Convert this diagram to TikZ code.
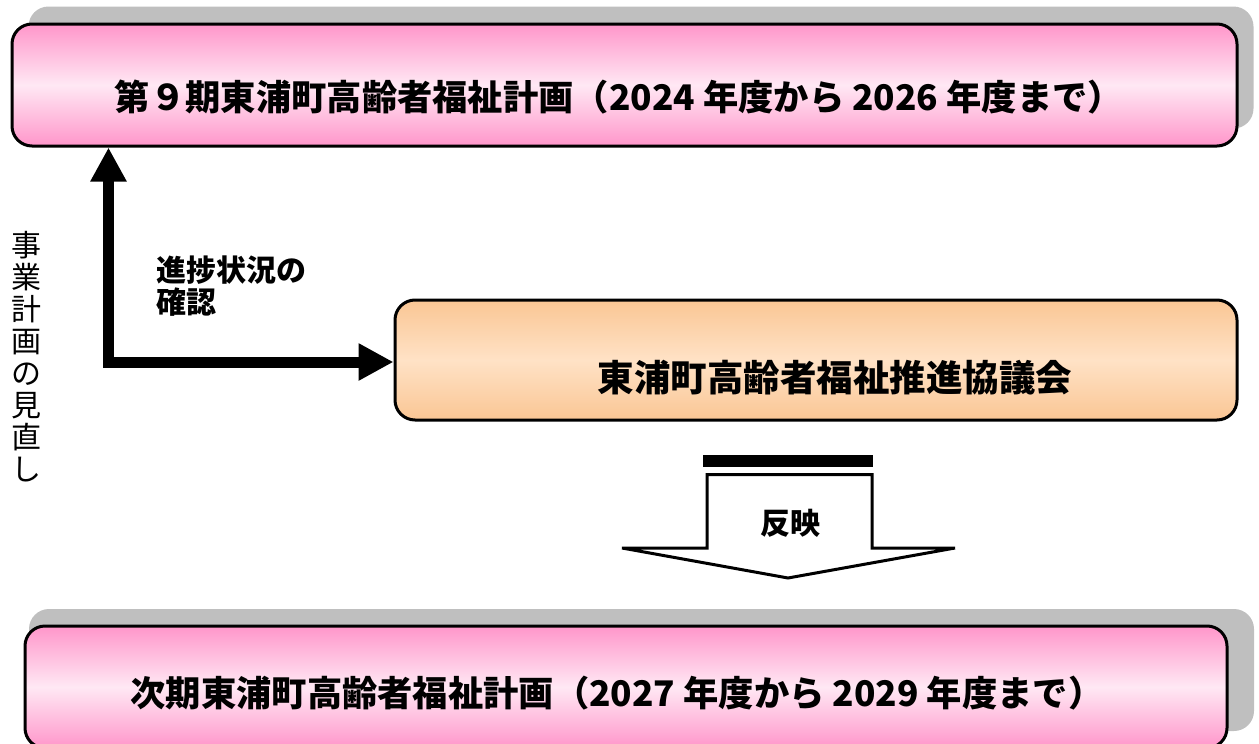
\documentclass[tikz,border=0pt]{standalone}
\usepackage{fontspec}
\newfontfamily\jp{Noto Sans CJK JP}
\usetikzlibrary{arrows.meta}
\definecolor{pinkA}{RGB}{255,150,202}
\definecolor{pinkB}{RGB}{255,232,244}
\definecolor{orA}{RGB}{250,198,148}
\definecolor{orB}{RGB}{255,226,198}
\definecolor{shadowgray}{RGB}{191,191,191}
\begin{document}
\begin{tikzpicture}[x=1pt,y=-1pt,
  shadowbox/.style={fill=shadowgray, rounded corners=20pt, minimum width=1225pt, minimum height=122pt, inner sep=0pt},
  planbox/.style={draw=black, line width=3pt, rounded corners=20pt, top color=pinkA, bottom color=pinkA, middle color=pinkB, minimum width=1225pt, minimum height=122pt, inner sep=0pt},
  councilbox/.style={draw=black, line width=3pt, rounded corners=20pt, top color=orA, bottom color=orA, middle color=orB, minimum width=842pt, minimum height=120pt, inner sep=0pt},
  bigtext/.style={font=\jp\bfseries\fontsize{35.3}{40}\selectfont, inner sep=0pt},
  smalltext/.style={font=\jp\bfseries\fontsize{30}{32}\selectfont, inner sep=0pt},
  elbow/.style={line width=11pt, line join=miter, {Triangle[length=34pt,width=34pt]}-{Triangle[length=35pt,width=35pt]}},
]
\useasboundingbox (0,0) rectangle (1259,744);
\clip (0,0) rectangle (1259,744);
% top plan
\node[shadowbox] (plan9shadow) at (641,67.5) {};
\node[planbox] (plan9) at (624.5,85) {};
\node[bigtext] (plan9text) at (619,97) {第９期東浦町高齢者福祉計画（2024 年度から 2026 年度まで）};
% council
\node[councilbox] (council) at (816,360) {};
\node[bigtext, font=\jp\bfseries\fontsize{36.5}{40}\selectfont] (counciltext) at (835,378) {東浦町高齢者福祉推進協議会};
% elbow arrow
\coordinate (corner) at (108.5,362);
\draw[elbow] (plan9.south -| corner) -- (corner) -- (corner -| council.west);
\node[smalltext, align=left, anchor=north west] (check) at (156,256) {進捗状況の\\確認};
\node[font=\jp\fontsize{30}{32}\selectfont, align=center, inner sep=0pt] (review) at (26,357) {事\\業\\計\\画\\の\\見\\直\\し};
% reflect arrow
\fill (703,455) rectangle (873,467);
\draw[line width=3pt, fill=white, line join=miter] (707,474.5) -- (707,548) -- (622,548) -- (788,578) -- (955,548) -- (872,548) -- (872,474.5) -- cycle;
\node[smalltext] (reflect) at (790,523) {反映};
% next plan
\node[shadowbox] (nextshadow) at (641.5,670) {};
\node[planbox, minimum width=1202pt] (nextplan) at (626,687) {};
\node[bigtext] (nexttext) at (617,693) {次期東浦町高齢者福祉計画（2027 年度から 2029 年度まで）};
\end{tikzpicture}
\end{document}
